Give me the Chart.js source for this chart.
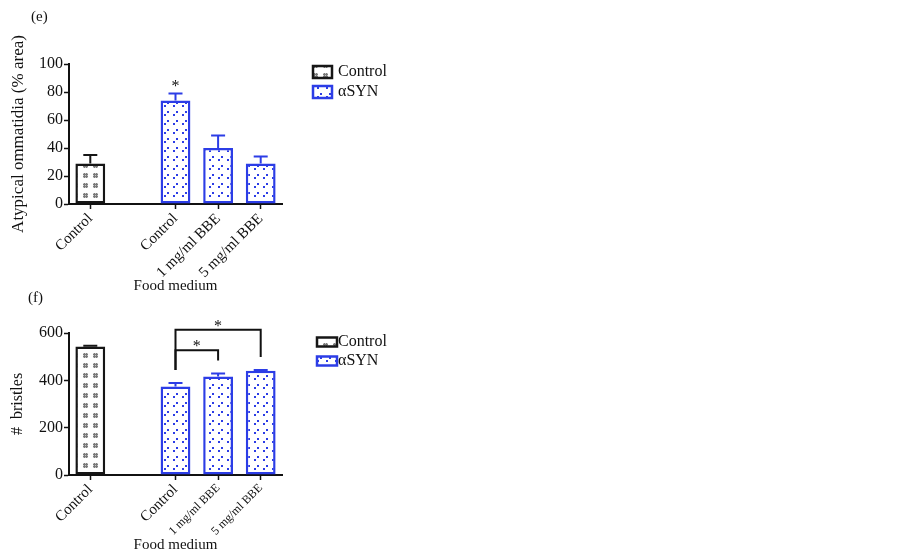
<!DOCTYPE html>
<html>
<head>
<meta charset="utf-8">
<script src="https://cdn.jsdelivr.net/npm/chart.js@4.4.1/dist/chart.umd.min.js"></script>
<style>
  body { margin: 0; background: #fff; width: 903px; height: 555px; position: relative; overflow: hidden;
         font-family: 'Liberation Serif', 'Times New Roman', serif; }
  .box { position: absolute; left: 0; width: 400px; }
  .tag { position: absolute; font-size: 15px; line-height: 17px; color: #111; }
</style>
</head>
<body>
<div class="box" style="top:0; height:300px;"><canvas id="chart-e"></canvas></div>
<div class="box" style="top:300px; height:255px;"><canvas id="chart-f"></canvas></div>
<div class="tag" style="left:31px; top:8px;">(e)</div>
<div class="tag" style="left:28px; top:289px;">(f)</div>
<script>
// 数据
const categories = ['Control', 'Control', '1 mg/ml BBE', '5 mg/ml BBE'];
const genotypes = ['Control', 'αSYN', 'αSYN', 'αSYN'];

// (e) 异常小眼面积
const atypicalMean = [29, 74, 40, 29];
const atypicalSem = [6, 5, 9, 5];
const atypicalTicks = [0, 20, 40, 60, 80, 100];
const atypicalStars = [1];

// (f) 刚毛数
const bristleMean = [543, 374, 416, 440];
const bristleSem = [3, 15, 13, 4];
const bristleTicks = [0, 200, 400, 600];
const bristleBrackets = [[1, 2, 527], [1, 3, 614]];   // [from, to, height]

const FONT = "'Liberation Serif', 'Times New Roman', serif";
Chart.defaults.font.family = FONT;
Chart.defaults.color = '#111';

// 填充图案
function makePattern(size, draw) {
    const c = document.createElement('canvas');
    c.width = size; c.height = size;
    const g = c.getContext('2d');
    g.fillStyle = '#fff';
    g.fillRect(0, 0, size, size);
    draw(g);
    return g.createPattern(c, 'repeat');
}
const hashFill = makePattern(10, g => {
    g.fillStyle = '#c8c8c8';
    g.fillRect(3, 3, 5, 5);
    g.fillStyle = '#7a7a7a';
    g.fillRect(4, 3, 1, 5);
    g.fillRect(6, 3, 1, 5);
    g.fillRect(3, 4, 5, 1);
    g.fillRect(3, 6, 5, 1);
});
const dotFill = makePattern(9, g => {
    g.fillStyle = '#2c3de6';
    g.fillRect(2, 6, 2, 2);
    g.fillRect(5, 3, 2, 2);
});
const groupStyle = {
    'Control': { border: '#161616', fill: hashFill },
    'αSYN': { border: '#2c3de6', fill: dotFill }
};

// 分类轴（对照组与αSYN组之间留空）
const axisLabels = [];
const slotOf = [];
categories.forEach((c, i) => {
    if (i > 0 && genotypes[i] !== genotypes[i - 1]) axisLabels.push('');
    slotOf.push(axisLabels.length);
    axisLabels.push(c);
});
const groupNames = [...new Set(genotypes)];

function makeDatasets(means, sems) {
    return groupNames.map(name => {
        const data = axisLabels.map(() => null);
        const errors = axisLabels.map(() => null);
        genotypes.forEach((g, i) => {
            if (g !== name) return;
            data[slotOf[i]] = means[i];
            errors[slotOf[i]] = sems[i];
        });
        return {
            label: name,
            data: data,
            errors: errors,
            backgroundColor: groupStyle[name].fill,
            borderColor: groupStyle[name].border,
            borderWidth: 2.5,
            borderSkipped: false
        };
    });
}

// 误差线、星号、显著性括号
const annotate = {
    id: 'annotate',
    afterDatasetsDraw(chart, args, opts) {
        const { ctx, scales: { x, y } } = chart;
        ctx.save();
        ctx.lineWidth = 2;
        chart.data.datasets.forEach((ds, di) => {
            chart.getDatasetMeta(di).data.forEach((bar, i) => {
                if (ds.data[i] == null) return;
                const top = y.getPixelForValue(ds.data[i] + ds.errors[i]);
                ctx.strokeStyle = ds.borderColor;
                ctx.beginPath();
                ctx.moveTo(bar.x, bar.y);
                ctx.lineTo(bar.x, top);
                ctx.moveTo(bar.x - 7, top);
                ctx.lineTo(bar.x + 7, top);
                ctx.stroke();
            });
        });

        const capTop = k => y.getPixelForValue(opts.means[k] + opts.sems[k]);
        ctx.fillStyle = '#111';
        ctx.strokeStyle = '#111';
        ctx.font = '16px ' + FONT;
        ctx.textAlign = 'center';
        ctx.textBaseline = 'alphabetic';
        (opts.stars || []).forEach(k => {
            ctx.fillText('*', x.getPixelForValue(slotOf[k]), capTop(k) - 2);
        });
        (opts.brackets || []).forEach(([a, b, level]) => {
            const xa = x.getPixelForValue(slotOf[a]);
            const xb = x.getPixelForValue(slotOf[b]);
            const yl = y.getPixelForValue(level);
            ctx.beginPath();
            ctx.moveTo(xa, capTop(a) - 13);
            ctx.lineTo(xa, yl);
            ctx.lineTo(xb, yl);
            ctx.lineTo(xb, capTop(b) - 13);
            ctx.stroke();
            ctx.fillText('*', (xa + xb) / 2, yl + 1);
        });
        ctx.restore();
    }
};

// 图例（绘于坐标区右侧）
const sideLegend = {
    id: 'sideLegend',
    afterDraw(chart, args, o) {
        const { ctx, chartArea } = chart;
        ctx.save();
        ctx.font = '16px ' + FONT;
        ctx.textAlign = 'left';
        ctx.textBaseline = 'middle';
        chart.data.datasets.forEach((ds, i) => {
            const x = chartArea.right + o.dx;
            const yc = chartArea.top + o.dy + i * o.step;
            ctx.fillStyle = ds.backgroundColor;
            ctx.fillRect(x, yc - o.boxH / 2, o.boxW, o.boxH);
            ctx.strokeStyle = ds.borderColor;
            ctx.lineWidth = 2.5;
            ctx.strokeRect(x, yc - o.boxH / 2, o.boxW, o.boxH);
            ctx.fillStyle = '#111';
            ctx.fillText(ds.label, x + o.boxW + o.gap, yc);
        });
        ctx.restore();
    }
};

function buildChart(id, o) {
    return new Chart(document.getElementById(id).getContext('2d'), {
        type: 'bar',
        data: { labels: axisLabels, datasets: makeDatasets(o.means, o.sems) },
        plugins: [annotate, sideLegend],
        options: {
            responsive: true,
            maintainAspectRatio: false,
            animation: false,
            layout: { padding: { top: o.top, left: 8, right: 118, bottom: o.bottom } },
            datasets: { bar: { grouped: false, barPercentage: 0.7, categoryPercentage: 1 } },
            plugins: {
                legend: { display: false },
                tooltip: { enabled: false },
                annotate: { means: o.means, sems: o.sems, stars: o.stars, brackets: o.brackets },
                sideLegend: o.legend
            },
            scales: {
                x: {
                    border: { color: '#111', width: 2 },
                    grid: {
                        offset: false,
                        drawOnChartArea: false,
                        tickLength: 5,
                        tickWidth: 1.5,
                        tickColor: c => axisLabels[c.index] === '' ? 'rgba(0,0,0,0)' : '#111'
                    },
                    ticks: { minRotation: 45, maxRotation: 45, autoSkip: false, padding: 1, font: o.xFont, color: '#111' },
                    title: { display: true, text: 'Food medium', font: { size: 15 }, padding: 0, color: '#111' },
                    afterFit(s) { s.height = o.xHeight; }
                },
                y: {
                    min: o.ticks[0],
                    max: o.ticks[o.ticks.length - 1],
                    afterBuildTicks(s) { s.ticks = o.ticks.map(v => ({ value: v })); },
                    border: { color: '#111', width: 2 },
                    grid: { drawOnChartArea: false, tickLength: 5, tickWidth: 1.5, tickColor: '#111' },
                    ticks: { padding: 1, font: { size: 16 }, color: '#111' },
                    title: { display: true, text: o.yTitle, font: { size: o.yTitleSize }, padding: 0, color: '#111' },
                    afterFit(s) { s.width = 61; }
                }
            }
        }
    });
}

document.addEventListener('DOMContentLoaded', () => {
    buildChart('chart-e', {
        means: atypicalMean, sems: atypicalSem, ticks: atypicalTicks, stars: atypicalStars,
        yTitle: 'Atypical ommatidia (% area)', yTitleSize: 17,
        top: 64, bottom: 5, xHeight: 91,
        legend: { dx: 31, dy: 8, step: 20, boxW: 19, boxH: 12, gap: 6 },
        xFont: { size: 15 }
    });
    buildChart('chart-f', {
        means: bristleMean, sems: bristleSem, ticks: bristleTicks, brackets: bristleBrackets,
        yTitle: '#  bristles', yTitleSize: 16,
        top: 33, bottom: 1, xHeight: 79,
        legend: { dx: 35, dy: 9, step: 19, boxW: 20, boxH: 9, gap: 1 },
        xFont: c => ({ size: c.tick && c.tick.label.indexOf('BBE') >= 0 ? 12 : 15 })
    });
});
</script>
</body>
</html>
